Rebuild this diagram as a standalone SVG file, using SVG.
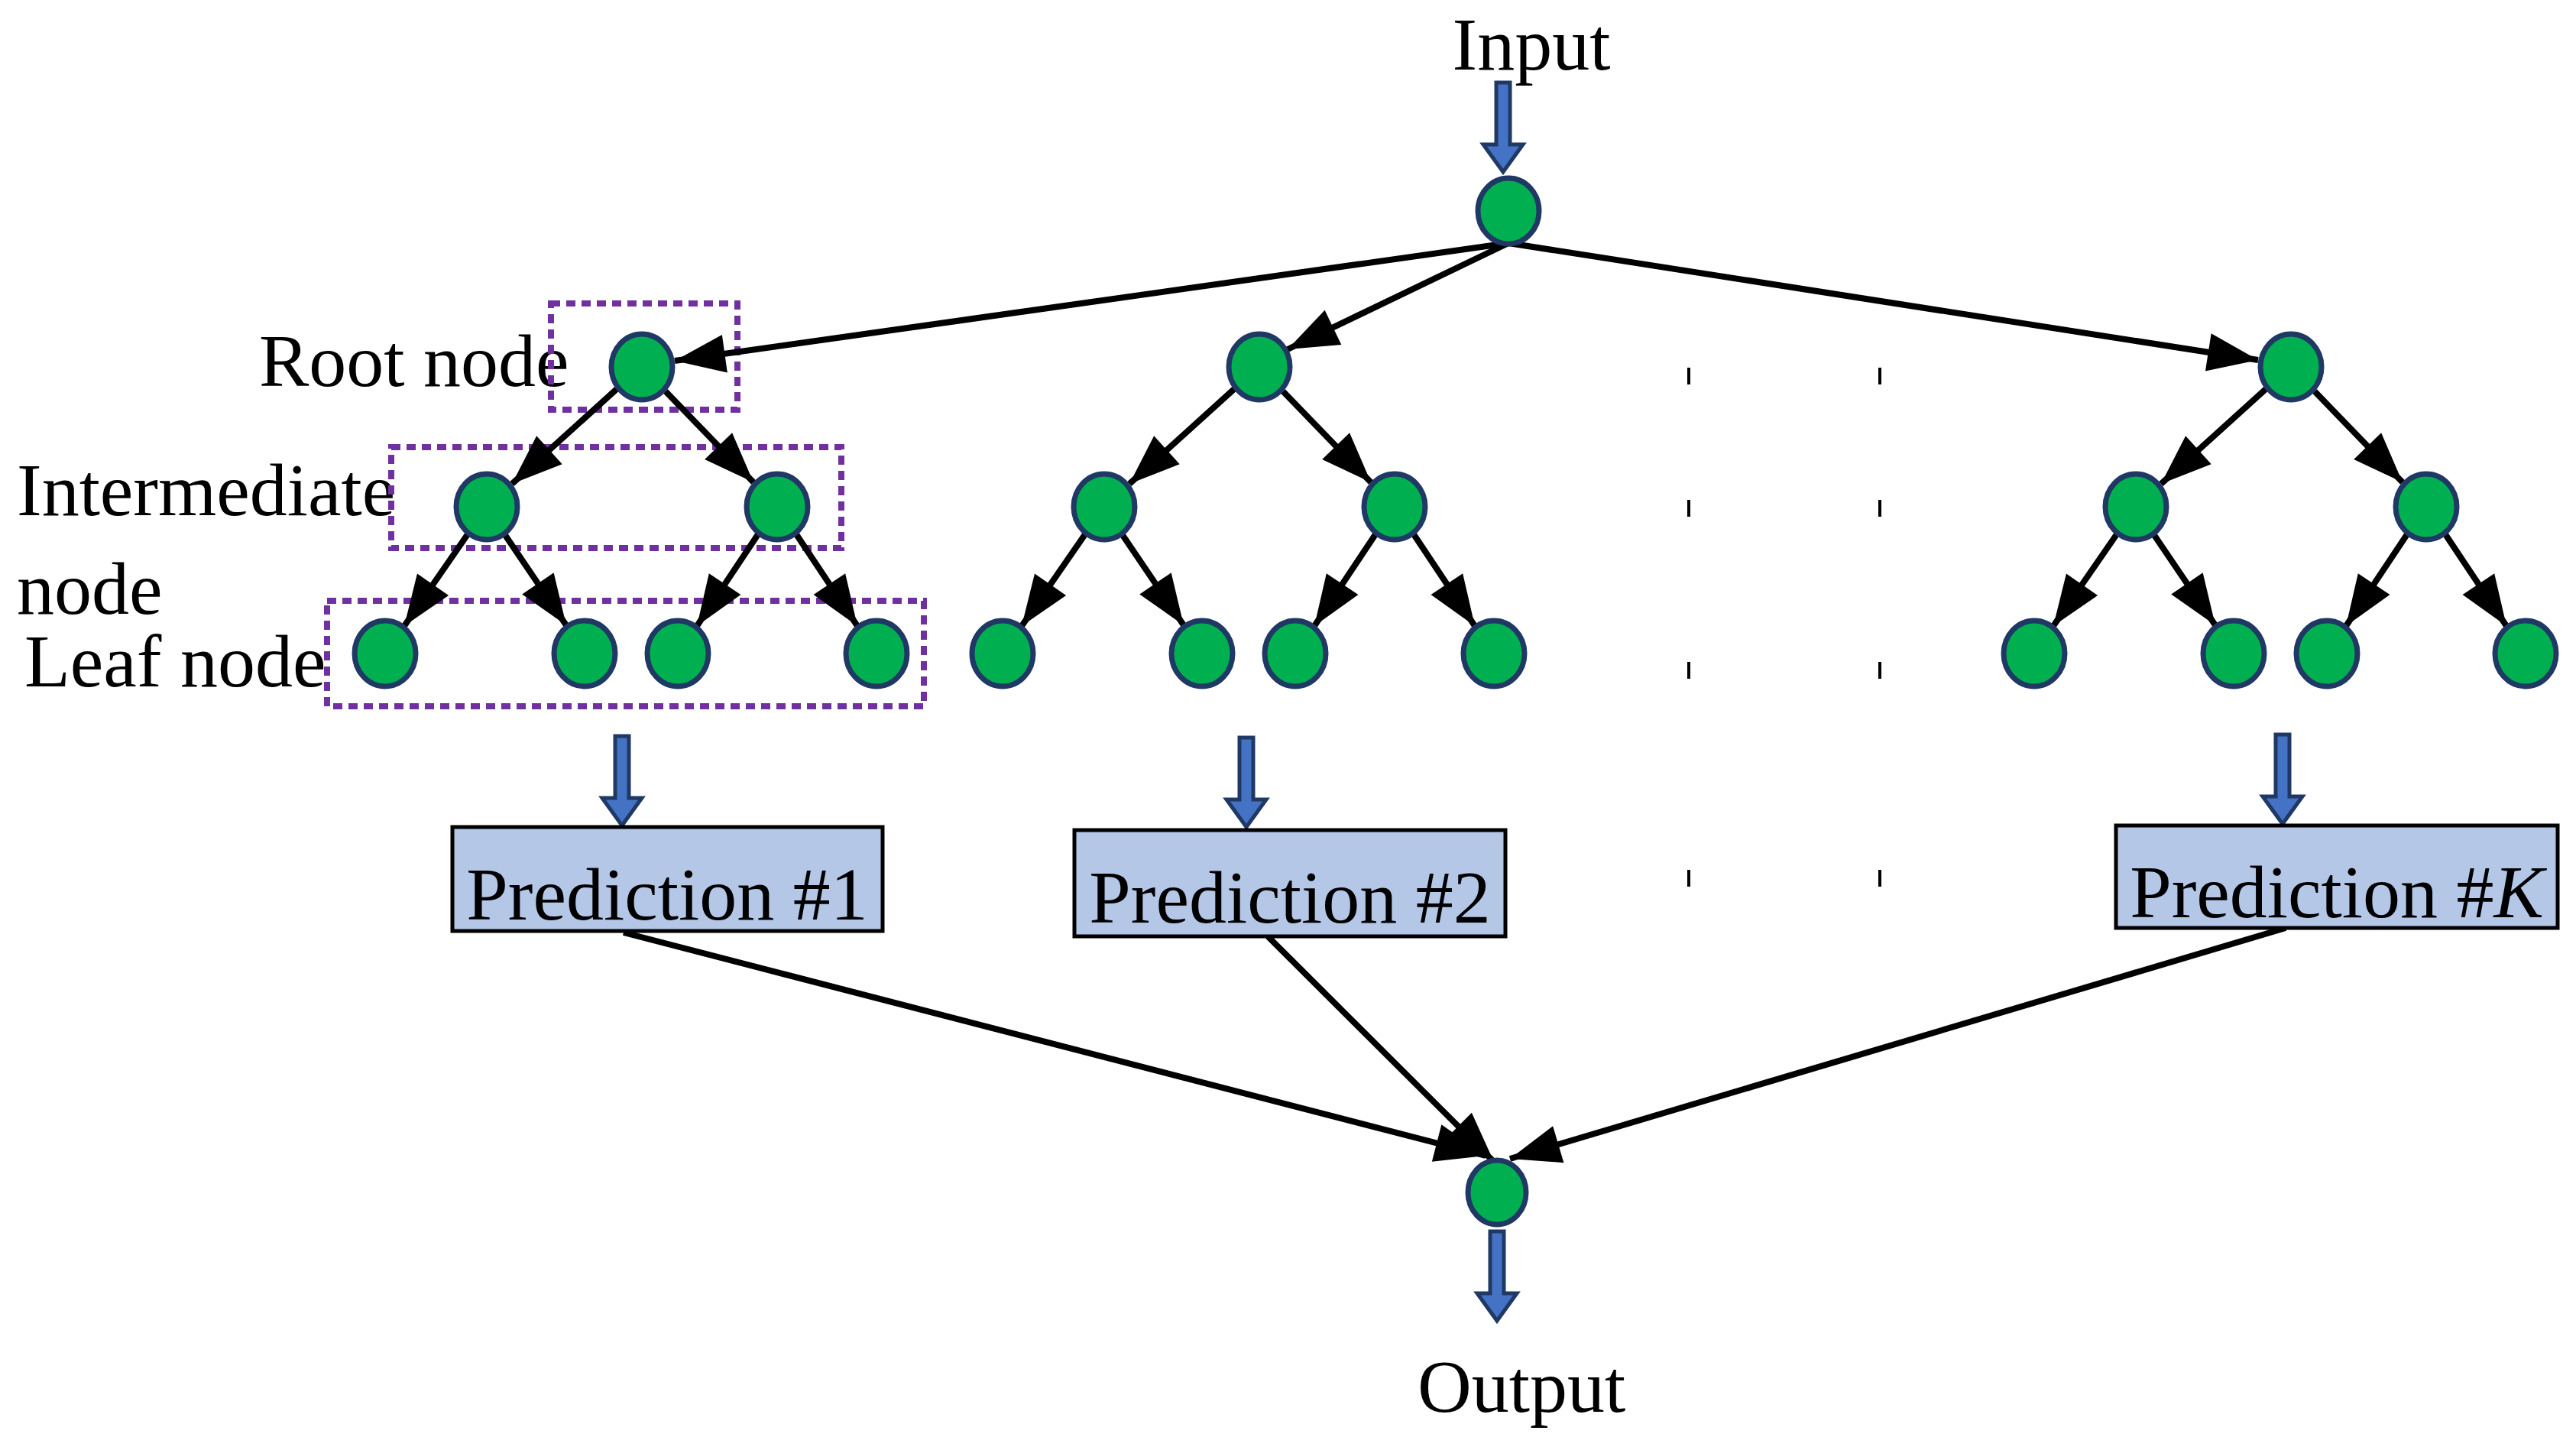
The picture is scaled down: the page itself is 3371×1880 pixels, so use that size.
<svg xmlns="http://www.w3.org/2000/svg" xmlns:xlink="http://www.w3.org/1999/xlink" width="3371" height="1880" viewBox="0 0 3371 1880">
<style>
.n{fill:#00B050;stroke:#1F3864;stroke-width:7}
.e{stroke:#000;stroke-width:8;fill:none;marker-end:url(#ah)}
.t{font-family:"Liberation Serif","Times New Roman",serif;font-size:98px;fill:#000}
.box{fill:#B4C7E7;stroke:#000;stroke-width:5}
.dot{fill:none;stroke:#7030A0;stroke-width:8;stroke-dasharray:12 8}
.tick{stroke:#000;stroke-width:4}
.ba{fill:#4472C4;stroke:#1F3864;stroke-width:5}
</style>
<defs>
<marker id="ah" markerUnits="userSpaceOnUse" markerWidth="90" markerHeight="70" refX="66" refY="25" orient="auto" overflow="visible"><path d="M0,0 L66,25 L0,50 z" fill="#000"/></marker>
<path id="blk" d="M-9,-117 H9 V-36 H26 L0,0 L-26,-36 H-9 Z"/>
</defs>
<rect width="3371" height="1880" fill="#fff"/>
<g id="labels">
<text class="t" x="2004" y="91" text-anchor="middle">Input</text>
<text class="t" x="339" y="505">Root node</text>
<text class="t" x="22" y="674">Intermediate</text>
<text class="t" x="22" y="803">node</text>
<text class="t" x="32" y="898">Leaf node</text>
<text class="t" x="1991" y="1847" text-anchor="middle">Output</text>
</g>
<g id="groupboxes">
<rect class="dot" x="721" y="397" width="244" height="139"/>
<rect class="dot" x="512" y="585" width="589" height="132"/>
<rect class="dot" x="428" y="786" width="781" height="138"/>
</g>
<g id="connectors">
<line class="e" x1="1974" y1="318" x2="883" y2="472"/>
<line class="e" x1="1974" y1="318" x2="1685" y2="457"/>
<line class="e" x1="1974" y1="318" x2="2955" y2="471"/>
<line class="e" x1="816" y1="1220" x2="1944" y2="1512"/>
<line class="e" x1="1659" y1="1225" x2="1955" y2="1520"/>
<line class="e" x1="2991" y1="1214" x2="1976" y2="1516"/>
</g>
<g id="blockarrows">
<use href="#blk" class="ba" x="1967" y="225"/>
<use href="#blk" class="ba" x="814" y="1080"/>
<use href="#blk" class="ba" x="1631" y="1082"/>
<use href="#blk" class="ba" x="2987" y="1078"/>
<use href="#blk" class="ba" x="1959" y="1728"/>
</g>
<g id="top-node"><ellipse class="n" cx="1974" cy="276" rx="40" ry="43"/></g>
<g id="output-node"><ellipse class="n" cx="1959" cy="1560" rx="38" ry="42"/></g>
<g id="tree1" transform="translate(840,480)">
<line class="e" x1="-33" y1="29" x2="-170" y2="153"/>
<line class="e" x1="31" y1="32" x2="146" y2="151"/>
<line class="e" x1="-228" y1="219" x2="-311" y2="339"/>
<line class="e" x1="-179" y1="220" x2="-99" y2="338"/>
<line class="e" x1="152" y1="219" x2="72" y2="339"/>
<line class="e" x1="202" y1="219" x2="282" y2="339"/>
<ellipse class="n" cx="0" cy="0" rx="40" ry="43"/>
<ellipse class="n" cx="-203" cy="183" rx="40" ry="43"/>
<ellipse class="n" cx="177" cy="183" rx="40" ry="43"/>
<ellipse class="n" cx="-336" cy="375" rx="40" ry="43"/>
<ellipse class="n" cx="-75" cy="375" rx="40" ry="43"/>
<ellipse class="n" cx="47" cy="375" rx="40" ry="43"/>
<ellipse class="n" cx="307" cy="375" rx="40" ry="43"/>
</g>
<g id="tree2" transform="translate(1648,480)">
<line class="e" x1="-33" y1="29" x2="-170" y2="153"/>
<line class="e" x1="31" y1="32" x2="146" y2="151"/>
<line class="e" x1="-228" y1="219" x2="-311" y2="339"/>
<line class="e" x1="-179" y1="220" x2="-99" y2="338"/>
<line class="e" x1="152" y1="219" x2="72" y2="339"/>
<line class="e" x1="202" y1="219" x2="282" y2="339"/>
<ellipse class="n" cx="0" cy="0" rx="40" ry="43"/>
<ellipse class="n" cx="-203" cy="183" rx="40" ry="43"/>
<ellipse class="n" cx="177" cy="183" rx="40" ry="43"/>
<ellipse class="n" cx="-336" cy="375" rx="40" ry="43"/>
<ellipse class="n" cx="-75" cy="375" rx="40" ry="43"/>
<ellipse class="n" cx="47" cy="375" rx="40" ry="43"/>
<ellipse class="n" cx="307" cy="375" rx="40" ry="43"/>
</g>
<g id="treeK" transform="translate(2998,480)">
<line class="e" x1="-33" y1="29" x2="-170" y2="153"/>
<line class="e" x1="31" y1="32" x2="146" y2="151"/>
<line class="e" x1="-228" y1="219" x2="-311" y2="339"/>
<line class="e" x1="-179" y1="220" x2="-99" y2="338"/>
<line class="e" x1="152" y1="219" x2="72" y2="339"/>
<line class="e" x1="202" y1="219" x2="282" y2="339"/>
<ellipse class="n" cx="0" cy="0" rx="40" ry="43"/>
<ellipse class="n" cx="-203" cy="183" rx="40" ry="43"/>
<ellipse class="n" cx="177" cy="183" rx="40" ry="43"/>
<ellipse class="n" cx="-336" cy="375" rx="40" ry="43"/>
<ellipse class="n" cx="-75" cy="375" rx="40" ry="43"/>
<ellipse class="n" cx="47" cy="375" rx="40" ry="43"/>
<ellipse class="n" cx="307" cy="375" rx="40" ry="43"/>
</g>
<g id="pred1"><rect class="box" x="592" y="1082" width="563" height="136"/><text class="t" x="873" y="1203" text-anchor="middle">Prediction #1</text></g>
<g id="pred2"><rect class="box" x="1406" y="1086" width="564" height="139"/><text class="t" x="1688" y="1207" text-anchor="middle">Prediction #2</text></g>
<g id="predK"><rect class="box" x="2769" y="1080" width="578" height="134"/><text class="t" x="3058" y="1200" text-anchor="middle">Prediction #<tspan font-style="italic">K</tspan></text></g>
<g id="ellipsis">
<line class="tick" x1="2210" y1="481" x2="2210" y2="503"/><line class="tick" x1="2460" y1="481" x2="2460" y2="503"/>
<line class="tick" x1="2210" y1="654" x2="2210" y2="676"/><line class="tick" x1="2460" y1="654" x2="2460" y2="676"/>
<line class="tick" x1="2210" y1="866" x2="2210" y2="888"/><line class="tick" x1="2460" y1="866" x2="2460" y2="888"/>
<line class="tick" x1="2210" y1="1138" x2="2210" y2="1160"/><line class="tick" x1="2460" y1="1138" x2="2460" y2="1160"/>
</g>
</svg>
